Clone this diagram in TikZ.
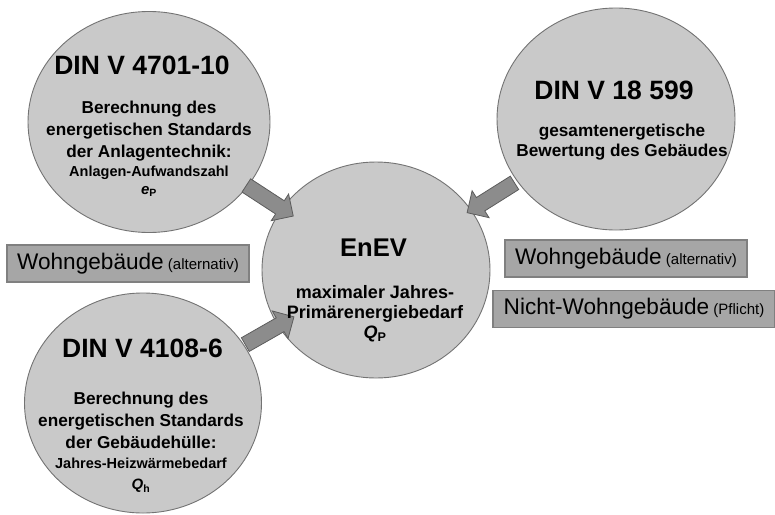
\documentclass[tikz,border=0pt]{standalone}
\usepackage{fontspec}
\setmainfont{Liberation Sans}
\usetikzlibrary{shapes.geometric,shapes.arrows}
\definecolor{discfill}{gray}{0.79}
\definecolor{discline}{gray}{0.45}
\definecolor{tagfill}{gray}{0.65}
\definecolor{tagline}{gray}{0.5}
\definecolor{arrowfill}{gray}{0.55}
\definecolor{arrowline}{gray}{0.36}
\tikzset{
  disc/.style={ellipse, draw=discline, fill=discfill, line width=0.9pt, inner sep=0pt},
  disctitle/.style={inner sep=0pt, font=\bfseries\fontsize{26.5}{30}\selectfont},
  disctext/.style={align=center, inner sep=0pt, font=\bfseries\fontsize{17.2}{22}\selectfont},
  tagbox/.style={draw=tagline, fill=tagfill, line width=1.2pt, minimum height=37pt, inner sep=0pt, font=\fontsize{22.6}{26}\selectfont},
  fatarrow/.style={single arrow, draw=arrowline, fill=arrowfill, line width=0.8pt, inner sep=0pt, inner ysep=7.5pt, minimum height=56pt, single arrow head extend=8pt, sloped, allow upside down}
}
\begin{document}
\begin{tikzpicture}[x=1pt,y=-1pt]
\useasboundingbox (0,0) rectangle (775,514);
\node[disc, minimum width=242pt, minimum height=221pt] (din4701) at (149,122) {};
\node[disc, minimum width=238pt, minimum height=222pt] (din18599) at (616,119) {};
\node[disc, minimum width=237pt, minimum height=220pt] (din4108) at (143,403) {};
\node[disc, minimum width=228pt, minimum height=216pt] (enev) at (376,270) {};
\path (din4701) -- node[fatarrow, pos=0.55] (pfeil1) {} (enev);
\path (din18599) -- node[fatarrow] (pfeil2) {} (enev);
\path (din4108) -- node[fatarrow, pos=0.65] (pfeil3) {} (enev);
\node[disctitle, anchor=base] (t4701) at (142,74) {DIN V 4701-10};
\node[disctext, anchor=north] (b4701) at (149,101) {Berechnung des\\energetischen Standards\\der Anlagentechnik:\\[-3pt]{\fontsize{14.5}{18}\selectfont Anlagen-Aufwandszahl}\\[-4pt]{\fontsize{15}{18}\selectfont{\itshape e}\textsubscript{P}}};
\node[disctitle, anchor=base] (t18599) at (614,99.5) {DIN V 18 599};
\node[disctext, anchor=north] (b18599) at (622,123.7) {gesamtenergetische\\[-2pt]Bewertung des Gebäudes};
\node[disctitle, anchor=base] (t4108) at (142.5,357.5) {DIN V 4108-6};
\node[disctext, anchor=north] (b4108) at (141,391.7) {Berechnung des\\energetischen Standards\\der Gebäudehülle:\\[-2pt]{\fontsize{14.5}{18}\selectfont Jahres-Heizwärmebedarf}\\[-1pt]{\fontsize{15}{18}\selectfont{\itshape Q}\textsubscript{h}}};
\node[disctitle, anchor=base, font=\bfseries\fontsize{25.6}{30}\selectfont] (tenev) at (373.5,256) {EnEV};
\node[disctext, anchor=north, font=\bfseries\fontsize{18}{20}\selectfont] (benev) at (375,285.6) {maximaler Jahres-\\Primärenergiebedarf\\{\itshape Q}\textsubscript{P}};
\node[tagbox, minimum width=242pt] (wohnlinks) at (128,263.5) {Wohngebäude{\fontsize{15}{18}\selectfont\ (alternativ)}};
\node[tagbox, minimum width=242pt] (wohnrechts) at (626,258.5) {Wohngebäude{\fontsize{15}{18}\selectfont\ (alternativ)}};
\node[tagbox, minimum width=282pt] (nichtwohn) at (634,309) {Nicht-Wohngebäude{\fontsize{15}{18}\selectfont\ (Pflicht)}};
\end{tikzpicture}
\end{document}
